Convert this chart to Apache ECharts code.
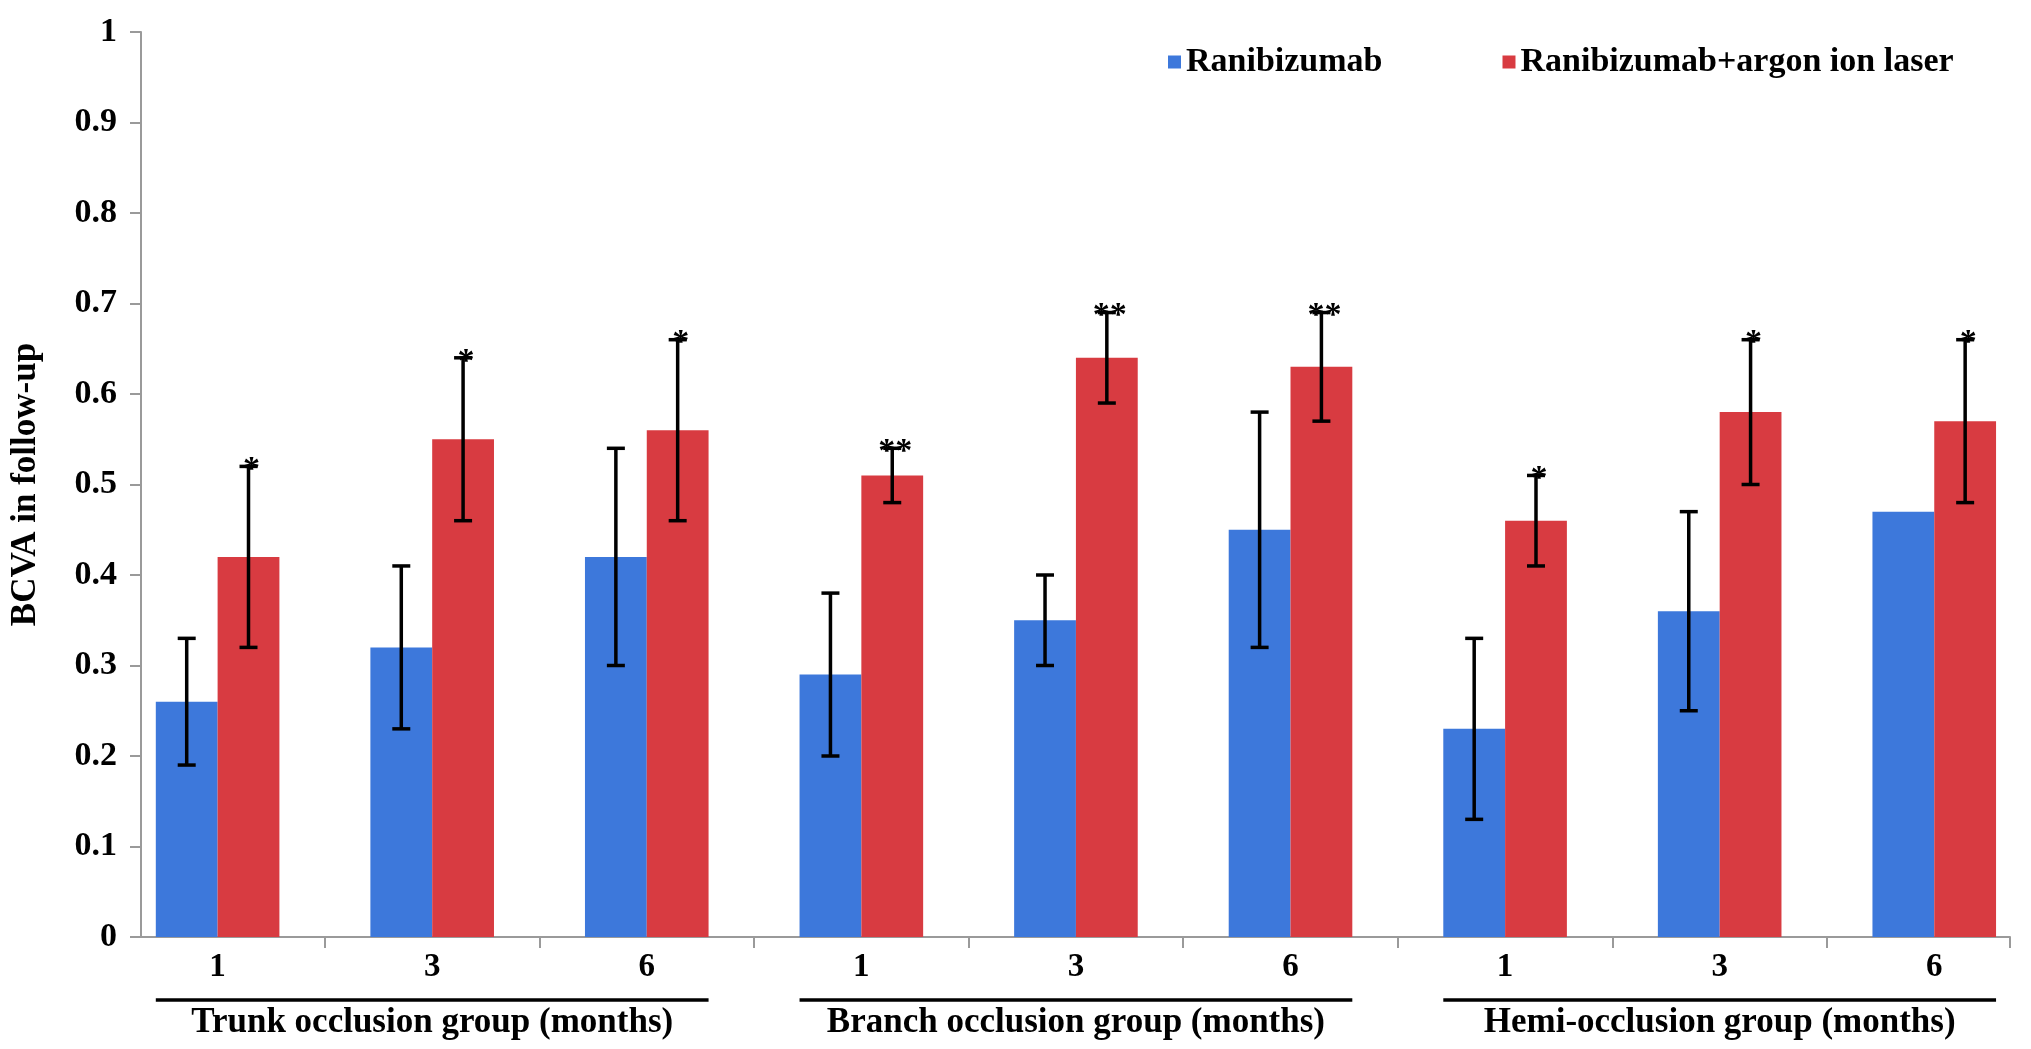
<!DOCTYPE html>
<html><head><meta charset="utf-8">
<script src="https://cdn.jsdelivr.net/npm/echarts@6/dist/echarts.min.js"></script>
<style>html,body{margin:0;padding:0;background:#fff}#c{width:2031px;height:1049px}</style>
</head><body><div id="c"></div>
<script>
// ---- data ----
const months = ['1', '3', '6', '1', '3', '6', '1', '3', '6'];
const groups = ['Trunk occlusion group (months)', 'Branch occlusion group (months)', 'Hemi-occlusion group (months)'];
const seriesNames = ['Ranibizumab', 'Ranibizumab+argon ion laser'];
const ranibizumab = [0.26, 0.32, 0.42, 0.29, 0.35, 0.45, 0.23, 0.36, 0.47];
const ranibizumabSD = [0.07, 0.09, 0.12, 0.09, 0.05, 0.13, 0.10, 0.11, null];
const combined = [0.42, 0.55, 0.56, 0.51, 0.64, 0.63, 0.46, 0.58, 0.57];
const combinedSD = [0.10, 0.09, 0.10, 0.03, 0.05, 0.06, 0.05, 0.08, 0.09];
const significance = ['*', '*', '*', '**', '**', '**', '*', '*', '*'];

// ---- style ----
const FONT = 'Liberation Serif';
const BLUE = '#3d78db';
const RED = '#d83b41';
const AXIS = '#9a9a9a';
const BAR_RATIO = 0.288;
const X_MIN = -0.357, X_MAX = 8.353;

const chart = echarts.init(document.getElementById('c'));

function errorRenderer(side, labels) {
  return function (params, api) {
    const i = api.value(0), m = api.value(1), sd = api.value(2);
    const bw = api.size([1, 0])[0] * BAR_RATIO;
    const cx = api.coord([i, m])[0] + side * bw / 2;
    const yTop = api.coord([i, m + sd])[1];
    const yBot = api.coord([i, m - sd])[1];
    const cap = 9;
    const st = { stroke: '#000', lineWidth: 3.5 };
    const children = [
      { type: 'line', shape: { x1: cx, y1: yTop, x2: cx, y2: yBot }, style: st },
      { type: 'line', shape: { x1: cx - cap, y1: yTop, x2: cx + cap, y2: yTop }, style: st },
      { type: 'line', shape: { x1: cx - cap, y1: yBot, x2: cx + cap, y2: yBot }, style: st }
    ];
    if (labels) {
      children.push({ type: 'text', x: cx + 3, y: yTop + 4,
        style: { text: labels[i], fontFamily: FONT, fontWeight: 'bold', fontSize: 34, fill: '#000', align: 'center', verticalAlign: 'middle' } });
    }
    return { type: 'group', children };
  };
}

const blueErr = [];
ranibizumab.forEach((v, i) => { if (ranibizumabSD[i] != null) blueErr.push([i, v, ranibizumabSD[i]]); });
const redErr = combined.map((v, i) => [i, v, combinedSD[i]]);

const option = {
  animation: false,
  backgroundColor: '#fff',
  textStyle: { fontFamily: FONT },
  legend: {
    data: seriesNames, left: 1163, top: 40, icon: 'rect', itemWidth: 13, itemHeight: 13, itemGap: 120,
    textStyle: { fontFamily: FONT, fontWeight: 'bold', fontSize: 34, color: '#000' }
  },
  grid: { left: 139, right: 21, top: 32, bottom: 112 },
  xAxis: {
    type: 'value', min: X_MIN, max: X_MAX,
    splitLine: { show: false },
    axisLine: { show: true, onZero: false, lineStyle: { color: AXIS, width: 2 } },
    axisTick: { show: true, length: 11, lineStyle: { color: AXIS, width: 2 },
      customValues: months.slice(1).map((_, i) => i + 0.5).concat([X_MAX]) },
    axisLabel: { customValues: months.map((_, i) => i), formatter: v => months[Math.round(v)],
      fontFamily: FONT, fontWeight: 'bold', fontSize: 33, color: '#000', margin: 14 }
  },
  yAxis: {
    type: 'value', min: 0, max: 1, interval: 0.1,
    name: 'BCVA in follow-up', nameLocation: 'middle', nameGap: 98,
    nameTextStyle: { fontFamily: FONT, fontWeight: 'bold', fontSize: 35, color: '#000' },
    splitLine: { show: false },
    axisLine: { show: true, onZero: false, lineStyle: { color: AXIS, width: 2 } },
    axisTick: { show: true, length: 11, lineStyle: { color: AXIS, width: 2 } },
    axisLabel: { formatter: v => String(+v.toFixed(1)), fontFamily: FONT, fontWeight: 'bold', fontSize: 34, color: '#000', margin: 24 }
  },
  series: [
    { name: seriesNames[0], type: 'bar', barWidth: (BAR_RATIO * 100) + '%', barGap: '0%',
      itemStyle: { color: BLUE }, data: ranibizumab.map((v, i) => [i, v]) },
    { name: seriesNames[1], type: 'bar', barWidth: (BAR_RATIO * 100) + '%', barGap: '0%',
      itemStyle: { color: RED }, data: combined.map((v, i) => [i, v]) },
    { type: 'custom', renderItem: errorRenderer(-1, null), data: blueErr, z: 5 },
    { type: 'custom', renderItem: errorRenderer(1, significance), data: redErr, z: 5 },
    { type: 'custom', z: 5, data: groups.map((g, k) => [k * 3 + 1, 0]),
      renderItem: function (params, api) {
        const k = params.dataIndex;
        const bw = api.size([1, 0])[0] * BAR_RATIO;
        const x1 = api.coord([k * 3, 0])[0] - bw;
        const x2 = api.coord([k * 3 + 2, 0])[0] + bw;
        const y0 = api.coord([k * 3, 0])[1];
        const ly = y0 + 63;
        return { type: 'group', children: [
          { type: 'line', shape: { x1: x1, y1: ly, x2: x2, y2: ly }, style: { stroke: '#000', lineWidth: 3.5 } },
          { type: 'text', x: (x1 + x2) / 2, y: ly + 5,
            style: { text: groups[k], fontFamily: FONT, fontWeight: 'bold', fontSize: 35, fill: '#000', align: 'center', verticalAlign: 'top' } }
        ] };
      } }
  ]
};
chart.setOption(option);
</script>
</body></html>
